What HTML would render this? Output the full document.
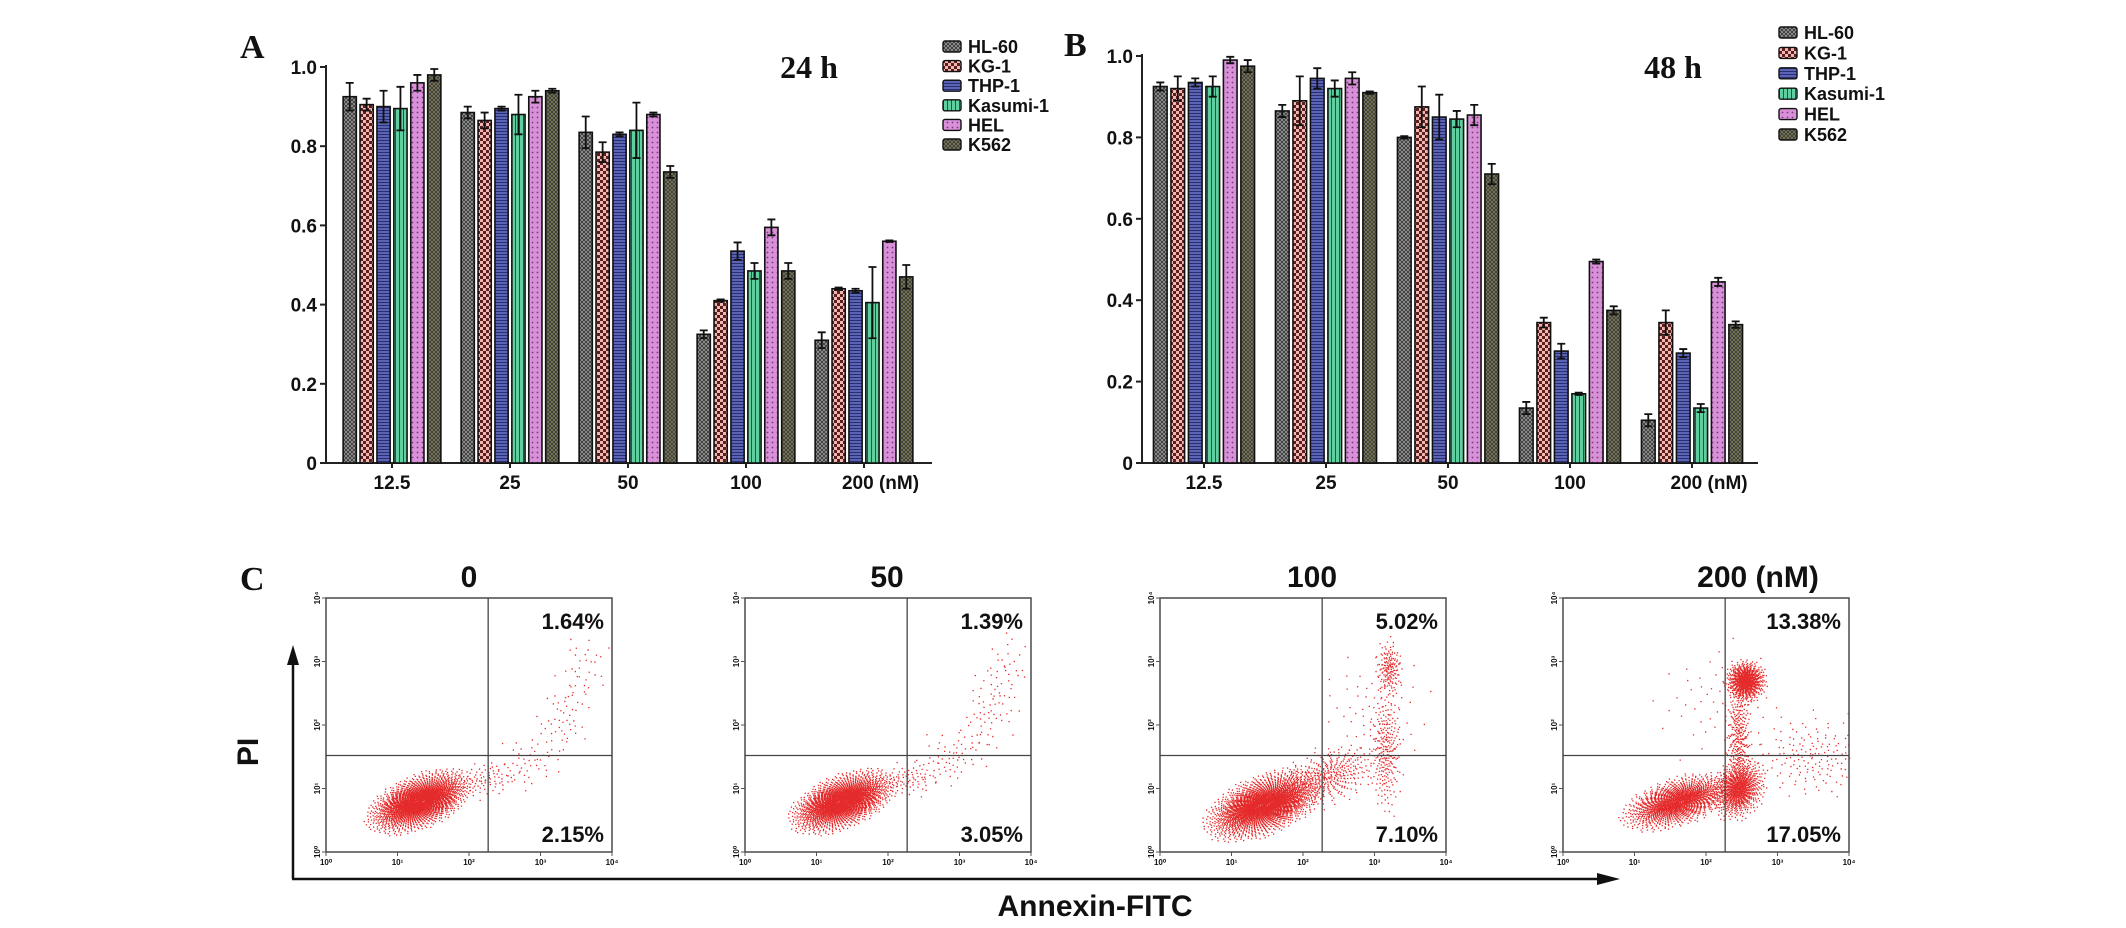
<!DOCTYPE html>
<html><head><meta charset="utf-8">
<style>
html,body{margin:0;padding:0;background:#fff;}
svg{display:block;}
text{font-family:"Liberation Sans",Arial,sans-serif;font-weight:bold;fill:#111;}
.serif{font-family:"Liberation Serif","Times New Roman",serif;}
</style></head>
<body>
<svg id="fig" width="2126" height="928" viewBox="0 0 2126 928" xmlns="http://www.w3.org/2000/svg">
<defs>
 <pattern id="p0" width="4" height="4" patternUnits="userSpaceOnUse"><rect width="4" height="4" fill="#9a9a9a"/><path d="M0 0L4 4M4 0L0 4" stroke="#333" stroke-width="0.8"/></pattern>
 <pattern id="p1" width="6" height="6" patternUnits="userSpaceOnUse"><rect width="6" height="6" fill="#f3b6b0"/><rect width="3" height="3" fill="#5a2020"/><rect x="3" y="3" width="3" height="3" fill="#5a2020"/></pattern>
 <pattern id="p2" width="4" height="3" patternUnits="userSpaceOnUse"><rect width="4" height="3" fill="#5b63b5"/><rect y="2" width="4" height="1" fill="#2a2f70"/></pattern>
 <pattern id="p3" width="4" height="4" patternUnits="userSpaceOnUse"><rect width="4" height="4" fill="#5fcf9f"/><rect x="3" width="1" height="4" fill="#1f5a40"/></pattern>
 <pattern id="p4" width="5" height="5" patternUnits="userSpaceOnUse"><rect width="5" height="5" fill="#d890d8"/><circle cx="2.5" cy="2.5" r="0.9" fill="#7a3a7a"/></pattern>
 <pattern id="p5" width="4" height="4" patternUnits="userSpaceOnUse"><rect width="4" height="4" fill="#7a7858"/><path d="M0 0L4 4M4 0L0 4" stroke="#333" stroke-width="0.7"/></pattern>
</defs>
<g id="gA"></g>
<g id="gB"></g>
<g id="gC"></g>
<text class="serif" x="240" y="58" font-size="34">A</text>
<text class="serif" x="1064" y="56" font-size="34">B</text>
<text class="serif" x="240" y="590" font-size="34">C</text>
<text class="serif" x="809" y="78" font-size="32" text-anchor="middle">24 h</text>
<text class="serif" x="1673" y="78" font-size="32" text-anchor="middle">48 h</text>
<text x="0" y="0" font-size="30" transform="translate(258,752) rotate(-90)" text-anchor="middle">PI</text>
<text x="1095" y="916" font-size="30" text-anchor="middle">Annexin-FITC</text>
<g><line x1="293" y1="879" x2="293" y2="662" stroke="#111" stroke-width="2.5"/><path d="M293 645 L287 665 L299 665Z" fill="#111"/></g>
<g><line x1="292" y1="879" x2="1600" y2="879" stroke="#111" stroke-width="2.5"/><path d="M1620 879 L1597 873 L1597 885Z" fill="#111"/></g>
</svg>
<script>
const NS="http://www.w3.org/2000/svg";
const seriesNames=["HL-60","KG-1","THP-1","Kasumi-1","HEL","K562"];
const doses=["12.5","25","50","100","200 (nM)"];
const yTicks=[0,0.2,0.4,0.6,0.8,1.0];
const yTickLabels=["0","0.2","0.4","0.6","0.8","1.0"];
// 24 h values per series across doses
const a_HL60=[0.925,0.885,0.835,0.325,0.31];
const a_KG1=[0.905,0.865,0.785,0.41,0.44];
const a_THP1=[0.90,0.895,0.83,0.535,0.435];
const a_Kasumi=[0.895,0.88,0.84,0.485,0.405];
const a_HEL=[0.96,0.925,0.88,0.595,0.56];
const a_K562=[0.98,0.94,0.735,0.485,0.47];
const aErr_HL60=[0.035,0.015,0.04,0.01,0.02];
const aErr_KG1=[0.015,0.02,0.025,0.003,0.003];
const aErr_THP1=[0.04,0.005,0.005,0.022,0.005];
const aErr_Kasumi=[0.055,0.05,0.07,0.02,0.09];
const aErr_HEL=[0.02,0.015,0.005,0.02,0.002];
const aErr_K562=[0.015,0.005,0.015,0.02,0.03];
// 48 h
const b_HL60=[0.925,0.865,0.80,0.135,0.105];
const b_KG1=[0.92,0.89,0.875,0.345,0.345];
const b_THP1=[0.935,0.945,0.85,0.275,0.27];
const b_Kasumi=[0.925,0.92,0.845,0.17,0.135];
const b_HEL=[0.99,0.945,0.855,0.495,0.445];
const b_K562=[0.975,0.91,0.71,0.375,0.34];
const bErr_HL60=[0.01,0.015,0.003,0.015,0.015];
const bErr_KG1=[0.03,0.06,0.05,0.012,0.03];
const bErr_THP1=[0.01,0.025,0.055,0.018,0.01];
const bErr_Kasumi=[0.025,0.02,0.02,0.003,0.01];
const bErr_HEL=[0.008,0.015,0.025,0.005,0.01];
const bErr_K562=[0.015,0.003,0.025,0.01,0.008];
// flow cytometry
const flowDoses=["0","50","100","200 (nM)"];
const flowUpperRight=["1.64%","1.39%","5.02%","13.38%"];
const flowLowerRight=["2.15%","3.05%","7.10%","17.05%"];
const logTicks=["10\u2070","10\u00b9","10\u00b2","10\u00b3","10\u2074"];
// cluster data: plot index, centre (decades), sigma (decades), tilt, count
const clusterPlot=[0,0,0,0,0, 1,1,1,1,1, 2,2,2,2,2, 3,3,3,3,3,3];
const clusterX=[1.3,2.2,2.8,3.3,3.6, 1.35,2.25,2.9,3.4,3.65, 1.45,2.35,3.15,3.2,3.0, 1.6,2.45,2.45,2.55,3.5,2.2];
const clusterY=[0.8,1.15,1.4,2.1,2.9, 0.8,1.15,1.5,2.2,2.9, 0.75,1.2,1.6,2.9,2.2, 0.8,1.0,1.8,2.7,1.5,2.4];
const clusterSX=[0.3,0.22,0.25,0.18,0.18, 0.3,0.22,0.25,0.18,0.18, 0.34,0.3,0.1,0.08,0.35, 0.32,0.16,0.08,0.12,0.4,0.45];
const clusterSY=[0.18,0.13,0.22,0.3,0.3, 0.18,0.13,0.22,0.3,0.3, 0.2,0.2,0.45,0.2,0.45, 0.16,0.2,0.45,0.14,0.3,0.45];
const clusterTilt=[0.35,0.2,0.3,0.5,0.3, 0.35,0.2,0.3,0.5,0.3, 0.35,0.3,0,0,0, 0.3,0.3,0,0,0,0];
const clusterN=[2400,80,50,50,35, 2400,90,60,55,35, 2700,380,260,160,70, 1700,800,320,700,170,60];

function mk(tag,attrs,parent){const e=document.createElementNS(NS,tag);for(const k in attrs)e.setAttribute(k,attrs[k]);parent.appendChild(e);return e;}

function barChart(g,cfg){
  const vals=cfg.vals, errs=cfg.errs;
  const y=v=>cfg.y0-v*(cfg.y0-cfg.y1);
  const gx=i=>cfg.c0+i*cfg.sp;
  const step=cfg.sp*0.86/6, bw=step*0.78;
  const ax=mk("line",{x1:cfg.ax,y1:cfg.y1-2,x2:cfg.ax,y2:cfg.y0,stroke:"#222","stroke-width":2},g);
  
  
  const xa=mk("line",{x1:cfg.ax,y1:cfg.y0,x2:cfg.xend,y2:cfg.y0,stroke:"#222","stroke-width":2},g);
  
  
  yTicks.forEach((t,i)=>{
    mk("line",{x1:cfg.ax-6,y1:y(t),x2:cfg.ax,y2:y(t),stroke:"#222","stroke-width":2},g);
    const tx=mk("text",{x:cfg.ax-9,y:y(t)+7,"font-size":19,"text-anchor":"end"},g);
    tx.textContent=yTickLabels[i];
    
    
  });
  doses.forEach((d,i)=>{
    mk("line",{x1:gx(i),y1:cfg.y0,x2:gx(i),y2:cfg.y0+5,stroke:"#222","stroke-width":2},g);
    const tx=mk("text",{x:gx(i)+(i==4?cfg.sp*0.14:0),y:cfg.y0+26,"font-size":19,"text-anchor":"middle"},g);
    tx.textContent=d;
    
    
    for(let s=0;s<6;s++){
      const v=vals[s][i], e=errs[s][i];
      const x=gx(i)-3*step+s*step+(step-bw)/2;
      const r=mk("rect",{x:x,y:y(v),width:bw,height:cfg.y0-y(v),fill:"url(#p"+s+")",stroke:"#111","stroke-width":1.6},g);
      
      
      const cx=x+bw/2;
      const eb=mk("path",{d:`M${cx} ${y(v+e)}V${y(v-e)}M${cx-4} ${y(v+e)}H${cx+4}M${cx-4} ${y(v-e)}H${cx+4}`,stroke:"#111","stroke-width":1.8,fill:"none"},g);
      
      
    }
  });
  seriesNames.forEach((n,s)=>{
    const yy=cfg.ly+s*cfg.lsp;
    const lg=mk("g",{},g);
    
    
    mk("rect",{x:cfg.lx,y:yy-11,width:18,height:11,rx:2,fill:"url(#p"+s+")",stroke:"#111","stroke-width":1.4},lg);
    const t=mk("text",{x:cfg.lx+25,y:yy+1,"font-size":18},lg);
    t.textContent=n;
  });
}
barChart(document.getElementById("gA"),{vals:[a_HL60,a_KG1,a_THP1,a_Kasumi,a_HEL,a_K562],errs:[aErr_HL60,aErr_KG1,aErr_THP1,aErr_Kasumi,aErr_HEL,aErr_K562],
  y0:463,y1:67,ax:326,xend:932,c0:392,sp:118,lx:943,ly:52,lsp:19.6});
barChart(document.getElementById("gB"),{vals:[b_HL60,b_KG1,b_THP1,b_Kasumi,b_HEL,b_K562],errs:[bErr_HL60,bErr_KG1,bErr_THP1,bErr_Kasumi,bErr_HEL,bErr_K562],
  y0:463,y1:56,ax:1142,xend:1758,c0:1204,sp:122,lx:1779,ly:38,lsp:20.4});

// flow plots
const gC=document.getElementById("gC");
const plotX=[326,745,1160,1563], plotY=598, pw=286, ph=254;
const titleX=[469,887,1312,1758];
const qx=0.567, qy=0.62;
function frac(v){return v-Math.floor(v);}
flowDoses.forEach((d,p)=>{
  const g=mk("g",{},gC);
  
  
  const X=plotX[p];
  const fx=v=>X+v/4*pw, fy=v=>plotY+ph-v/4*ph;
  let pts="";
  clusterPlot.forEach((cp,k)=>{
    if(cp!==p)return;
    const n=clusterN[k];
    for(let j=1;j<=n;j++){
      // R2 quasi-random sequence + Box-Muller (deterministic, gaussian-shaped cloud)
      const u1=frac(0.5+j*0.7548776662+k*0.13), u2=frac(0.5+j*0.5698402910+k*0.29);
      const r=Math.sqrt(-2*Math.log(Math.max(u1,1e-4)));
      if(r>2.6)continue;
      const a=2*Math.PI*u2;
      const gx=r*Math.cos(a), gy=r*Math.sin(a);
      const vx=clusterX[k]+clusterSX[k]*gx;
      const vy=clusterY[k]+clusterSY[k]*gy+clusterTilt[k]*(vx-clusterX[k]);
      if(vx<0||vx>4||vy<0||vy>4)continue;
      pts+=`M${fx(vx).toFixed(1)} ${fy(vy).toFixed(1)}h1.3v1.3h-1.3z`;
    }
  });
  const dots=mk("path",{d:pts,fill:"#e42a2a"},g);
  
  
  mk("rect",{x:X,y:plotY,width:pw,height:ph,fill:"none",stroke:"#555","stroke-width":1.6},g);
  mk("line",{x1:X+qx*pw,y1:plotY,x2:X+qx*pw,y2:plotY+ph,stroke:"#444","stroke-width":1.3},g);
  mk("line",{x1:X,y1:plotY+qy*ph,x2:X+pw,y2:plotY+qy*ph,stroke:"#444","stroke-width":1.3},g);
  logTicks.forEach((t,i)=>{
    const tx=mk("text",{x:fx(i),y:plotY+ph+13,"font-size":8,"font-weight":"normal","text-anchor":"middle",fill:"#555"},g);
    tx.textContent=t;
    const ty=mk("text",{x:0,y:0,"font-size":8,"font-weight":"normal","text-anchor":"middle",fill:"#555",transform:`translate(${X-6},${fy(i)}) rotate(-90)`},g);
    ty.textContent=t;
    mk("line",{x1:fx(i),y1:plotY+ph,x2:fx(i),y2:plotY+ph+4,stroke:"#555"},g);
    mk("line",{x1:X-4,y1:fy(i),x2:X,y2:fy(i),stroke:"#555"},g);
  });
  const tt=mk("text",{x:titleX[p],y:587,"font-size":30,"text-anchor":"middle"},gC);
  tt.textContent=d;
  
  
  const u=mk("text",{x:X+pw-8,y:plotY+31,"font-size":22,"text-anchor":"end"},g);
  u.textContent=flowUpperRight[p];
  
  
  const l=mk("text",{x:X+pw-8,y:plotY+ph-10,"font-size":22,"text-anchor":"end"},g);
  l.textContent=flowLowerRight[p];
  
  
});
</script>
</body></html>
